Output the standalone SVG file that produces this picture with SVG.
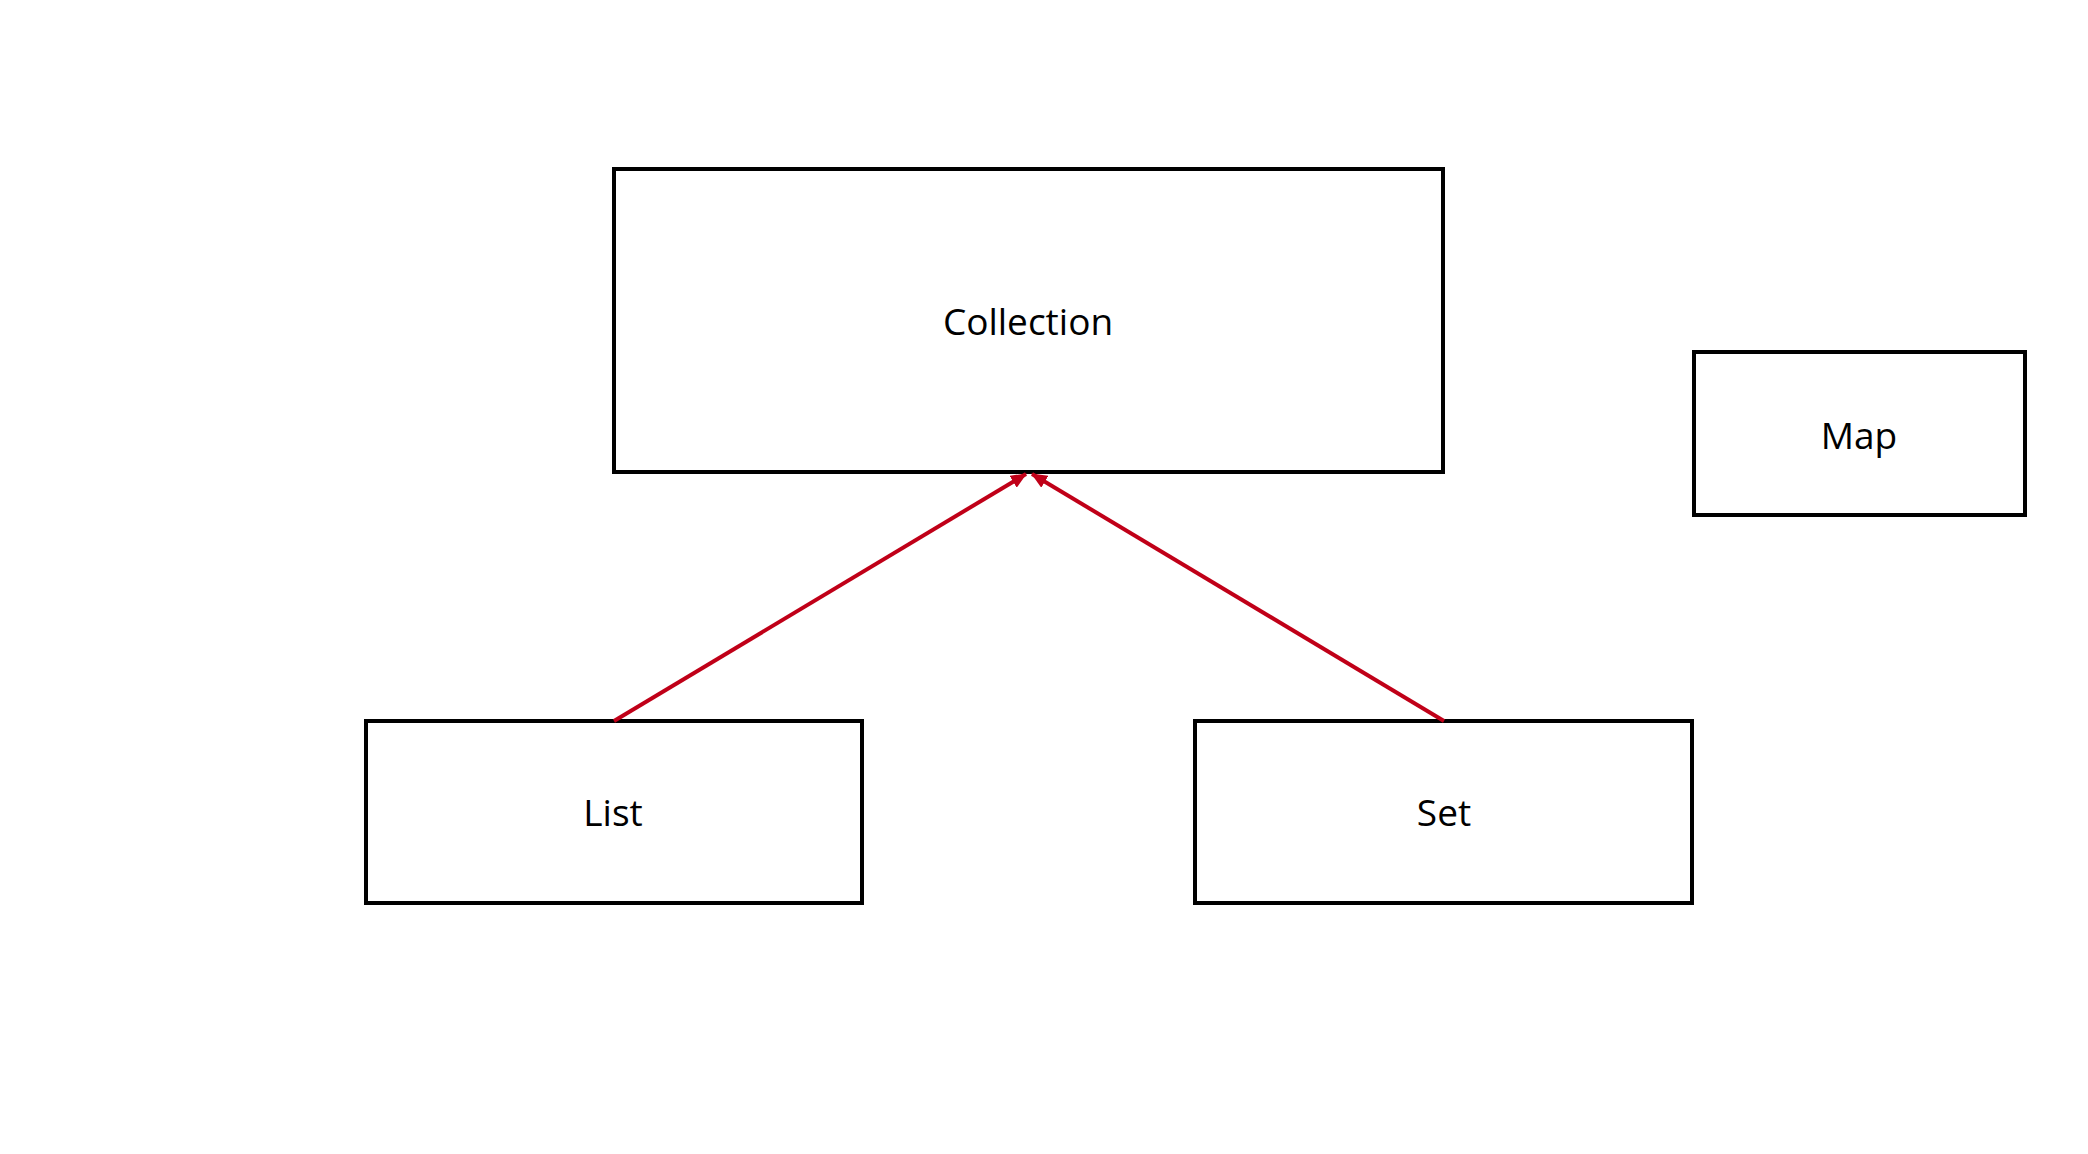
<svg xmlns="http://www.w3.org/2000/svg" width="2088" height="1154" viewBox="0 0 2088 1154">
<style>
.box{fill:#fff;stroke:#000;stroke-width:4}
.lbl{font-family:"Open Sans","Liberation Sans",sans-serif;font-size:37px;fill:#000;text-anchor:middle}
.edge{stroke:#C00018;stroke-width:4;fill:none}
</style>
<defs>
<marker id="arr" markerUnits="userSpaceOnUse" markerWidth="16" markerHeight="14" refX="15" refY="7" orient="auto">
<path d="M0,0 L16,7 L0,14 z" fill="#C00018"/>
</marker>
</defs>
<rect width="2088" height="1154" fill="#fff"/>
<g id="collection">
<rect class="box" x="614" y="169" width="829" height="303"/>
<text class="lbl" x="1028" y="335">Collection</text>
</g>
<g id="map">
<rect class="box" x="1694" y="352" width="331" height="163"/>
<text class="lbl" x="1859" y="449">Map</text>
</g>
<g id="list">
<rect class="box" x="366" y="721" width="496" height="182"/>
<text class="lbl" x="613" y="826">List</text>
</g>
<g id="set">
<rect class="box" x="1195" y="721" width="497" height="182"/>
<text class="lbl" x="1444" y="826">Set</text>
</g>
<g id="connectors">
<line class="edge" x1="614" y1="721" x2="1026" y2="474" marker-end="url(#arr)"/>
<line class="edge" x1="1444" y1="721" x2="1032" y2="474" marker-end="url(#arr)"/>
</g>
</svg>
